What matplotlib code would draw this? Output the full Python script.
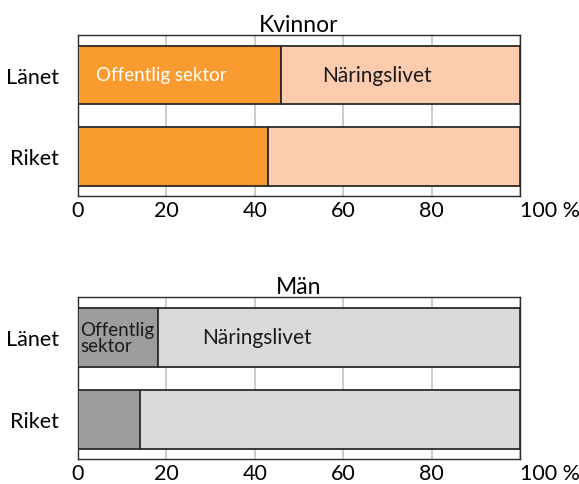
import numpy as np
import matplotlib.pyplot as plt

plt.rcParams['font.family'] = ['Lato', 'DejaVu Sans']

regions = ['Länet', 'Riket']
kvinnor_offentlig = [46, 43]
man_offentlig = [18, 14]
x_ticks = [0, 20, 40, 60, 80, 100]
x_labels = ['0', '20', '40', '60', '80', '100 %']


def draw_panel(ax, offentlig, title, dark, light, label_kind):
    offentlig = np.array(offentlig)
    naring = 100 - offentlig
    y = np.array([1, 0])
    ax.barh(y, offentlig, height=0.72, color=dark, edgecolor='#2b2b2b', linewidth=1.3, zorder=3)
    ax.barh(y, naring, left=offentlig, height=0.72, color=light, edgecolor='#2b2b2b',
            linewidth=1.3, zorder=3)
    ax.set_xlim(0, 100)
    ax.set_ylim(-0.485, 1.49)
    ax.set_yticks(y)
    ax.set_yticklabels(regions, fontsize=15.5)
    ax.set_xticks(x_ticks)
    ax.set_xticklabels(x_labels, fontsize=15.5)
    ax.get_xticklabels()[-1].set_horizontalalignment('left')
    ax.tick_params(length=0, pad=3)
    ax.tick_params(axis='y', pad=14)
    ax.grid(axis='x', color='#c4c4c4', linewidth=1.2, zorder=0)
    for s in ax.spines.values():
        s.set_color('#2b2b2b')
        s.set_linewidth(1.0)
    ax.set_title(title, fontsize=16.5, pad=3)

    if label_kind == 'wide':
        ax.text(4, 1, 'Offentlig sektor', color='white', fontsize=13.5, va='center')
        ax.text(55.2, 1, 'Näringslivet', color='#1a1a1a', fontsize=15, va='center')
    else:
        ax.text(0.5, 1, 'Offentlig\nsektor', color='#1a1a1a', fontsize=13.5, va='center',
                linespacing=0.95)
        ax.text(28, 1, 'Näringslivet', color='#1a1a1a', fontsize=15, va='center')


fig = plt.figure(figsize=(5.79, 4.85), dpi=100)
ax1 = fig.add_axes([0.1347, 0.5938, 0.7634, 0.332])
ax2 = fig.add_axes([0.1347, 0.0515, 0.7634, 0.334])

draw_panel(ax1, kvinnor_offentlig, 'Kvinnor', '#f99b2e', '#fdcbad', 'wide')
draw_panel(ax2, man_offentlig, 'Män', '#9d9d9b', '#dadada', 'narrow')

fig.savefig('out.png', dpi=100)
